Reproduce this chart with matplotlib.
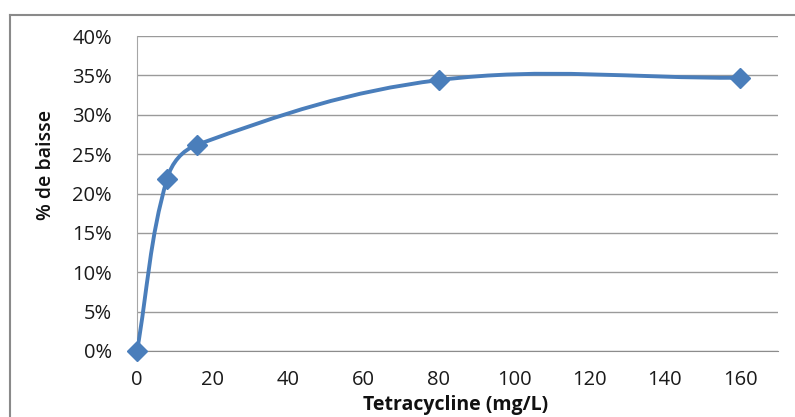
import numpy as np
import matplotlib
matplotlib.use("Agg")
import matplotlib.pyplot as plt
from matplotlib.path import Path
from matplotlib.patches import PathPatch
from matplotlib.lines import Line2D
from matplotlib.ticker import PercentFormatter

# data
conc = [0, 8, 16, 80, 160]
baisse = [0.0, 0.219, 0.262, 0.344, 0.347]
xticks = [0, 20, 40, 60, 80, 100, 120, 140, 160]
yticks = [0, 0.05, 0.10, 0.15, 0.20, 0.25, 0.30, 0.35, 0.40]

blue = "#4a7ebb"
plt.rcParams['font.family'] = ['Open Sans', 'DejaVu Sans']

fig = plt.figure(figsize=(7.95, 4.17), dpi=100)
ax = fig.add_axes([137/795, 66/417, 641/795, 315/417])
ax.set_xlim(0, 170)
ax.set_ylim(0, 0.40)


def smooth_path(xs, ys, sx, sy, k=0.36):
    # Excel-like smoothed line: cubic bezier between points, tangents from neighbours
    p = np.column_stack([np.array(xs) * sx, np.array(ys) * sy])
    n = len(p)
    tang = []
    for i in range(n):
        a = p[max(i - 1, 0)]
        b = p[min(i + 1, n - 1)]
        d = b - a
        tang.append(d / np.hypot(*d))
    verts = [p[0]]
    codes = [Path.MOVETO]
    for i in range(n - 1):
        L = np.hypot(*(p[i + 1] - p[i])) * k
        verts += [p[i] + tang[i] * L, p[i + 1] - tang[i + 1] * L, p[i + 1]]
        codes += [Path.CURVE4] * 3
    verts = np.array(verts) / [sx, sy]
    return Path(verts, codes)


sx = 641 / 170
sy = 315 / 0.40
ax.add_patch(PathPatch(smooth_path(conc, baisse, sx, sy), fill=False,
                       edgecolor=blue, lw=2.8, capstyle='round', zorder=3))
ax.plot(conc, baisse, ls='none', marker='D', ms=10, color=blue, zorder=4,
        clip_on=False)

ax.set_xticks(xticks)
ax.set_yticks(yticks)
ax.yaxis.set_major_formatter(PercentFormatter(1.0, decimals=0))
ax.grid(axis='y', color='#9a9a9a', lw=1)
ax.set_axisbelow(True)
for s in ['top', 'right']:
    ax.spines[s].set_visible(False)
ax.spines['left'].set_color('#a6a6a6')
ax.spines['bottom'].set_color('#8c8c8c')
ax.tick_params(length=0, labelsize=14.5, colors='#1a1a1a')
ax.tick_params(axis='x', pad=14)
ax.tick_params(axis='y', pad=18)

fig.text(456/795, 1 - 405/417, "Tetracycline (mg/L)", ha='center', va='center',
         fontsize=14, fontweight='bold', color='#111111')
fig.text(46/795, 1 - 165/417, "% de baisse", ha='center', va='center',
         rotation=90, fontsize=14, fontweight='semibold', color='#111111')

# outer chart frame (cropped on the right and bottom)
fig.add_artist(Line2D([10/795, 1], [1 - 15/417, 1 - 15/417], color='#8a8a8a', lw=1.5))
fig.add_artist(Line2D([10/795, 10/795], [0, 1 - 15/417], color='#8a8a8a', lw=1.5))

fig.savefig("out.png", dpi=100)
